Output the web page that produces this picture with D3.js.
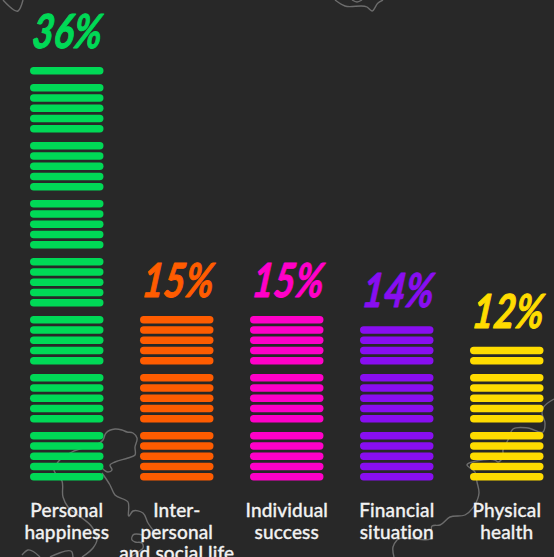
<!DOCTYPE html>
<html>
<head>
<meta charset="utf-8">
<script src="https://cdn.jsdelivr.net/npm/d3@7"></script>
<style>
  html, body { margin: 0; padding: 0; background: #282828; overflow: hidden; }
  svg { display: block; }
</style>
</head>
<body>
<svg id="chart" width="554" height="557"></svg>
<script>
// Share of answers per category; every stacked stripe stands for one percent.
const categories = ["Personal happiness", "Inter-personal and social life", "Individual success", "Financial situation", "Physical health"];
const values = [36, 15, 15, 14, 12];
const colors = ["#00d956", "#ff5c00", "#ff00c8", "#880ef0", "#ffdc00"];
const labelLines = [
  ["Personal", "happiness"],
  ["Inter-", "personal", "and social life"],
  ["Individual", "success"],
  ["Financial", "situation"],
  ["Physical", "health"]
];

// Faint world-map outlines behind the stripes.
const mapOutlines = [
  [[3,0],[18,11],[23,0]],
  [[335,0],[345,6],[367,7],[372,11],[378,3],[383,0]],
  [[352,0],[357,2],[362,0]],
  [[82,557],[93,548],[97,540],[92,527],[78,515],[68,507],[63,497],[62,481],[54,470],[58,462],[72,452],[103,440],[106,433],[115,429],[122,430],[127,432],[133,433],[137,438],[135,447],[135,455],[128,458],[115,462],[110,465],[112,470],[108,472],[102,468]],
  [[102,473],[110,485],[115,495],[128,502],[129,516],[133,511],[143,513],[148,523],[157,535]],
  [[143,535],[133,535],[132,540],[135,542],[142,543],[143,548],[138,552],[130,557]],
  [[22,555],[28,550],[40,557]],
  [[50,557],[72,552],[73,557]],
  [[554,399],[543,408],[542,413],[545,423],[543,432],[528,428],[513,429],[508,440],[503,450],[503,457],[498,462],[495,460],[482,460],[467,465],[475,472],[477,482],[479,493],[465,515],[450,517],[440,525],[432,526],[432,537],[397,540],[393,547],[394,557]]
];

const svg = d3.select("#chart");

const x = d3.scaleBand()
  .domain(categories)
  .range([30, 543.5])
  .paddingInner(0.332)
  .paddingOuter(0);

// Stripes come in blocks of five, so position is block offset plus offset in block.
const blockY = d3.scaleLinear().domain([0, 7]).range([476.7, 70.7]);
const stripeOffset = d3.scaleLinear().domain([0, 1]).range([0, -10.25]);
const stripeY = i => blockY(Math.floor(i / 5)) + stripeOffset(i % 5);
const stripeHeight = 7.4;

const outline = d3.line().curve(d3.curveCatmullRom.alpha(0.9));
svg.append("g")
  .selectAll("path")
  .data(mapOutlines)
  .join("path")
  .attr("d", outline)
  .attr("fill", "none")
  .attr("stroke", "#6c6c6c")
  .attr("stroke-width", 1.4);

const columns = svg.append("g")
  .selectAll("g")
  .data(categories.map((name, k) => ({ name, value: values[k], color: colors[k], lines: labelLines[k] })))
  .join("g");

columns.selectAll("rect")
  .data(d => d3.range(d.value).map(i => ({ i, color: d.color, name: d.name })))
  .join("rect")
  .attr("x", d => x(d.name))
  .attr("y", d => stripeY(d.i) - stripeHeight / 2)
  .attr("width", x.bandwidth())
  .attr("height", stripeHeight)
  .attr("rx", stripeHeight / 2)
  .attr("fill", d => d.color);

// Slanted, tall, thickened figures above each stack.
columns.append("text")
  .attr("transform", d => `translate(${x(d.name) + 1},${stripeY(d.value - 1) - 22.5}) skewX(-7) scale(1,1.27)`)
  .attr("font-family", "Lato")
  .attr("font-style", "italic")
  .attr("font-weight", 700)
  .attr("font-size", 37)
  .attr("fill", d => d.color)
  .attr("stroke", d => d.color)
  .attr("stroke-width", 0.8)
  .attr("stroke-linejoin", "round")
  .text(d => d.value + "%");

columns.selectAll("text.label")
  .data(d => d.lines.map((line, n) => ({ line, n, name: d.name })))
  .join("text")
  .attr("class", "label")
  .attr("x", d => x(d.name) + x.bandwidth() / 2)
  .attr("y", d => 516.8 + d.n * 21.8)
  .attr("text-anchor", "middle")
  .attr("font-family", "Lato")
  .attr("font-weight", 500)
  .attr("font-size", 19)
  .attr("letter-spacing", 0.15)
  .attr("fill", "#f2f2f2")
  .attr("stroke", "#f2f2f2")
  .attr("stroke-width", 0.3)
  .text(d => d.line);
</script>
</body>
</html>
